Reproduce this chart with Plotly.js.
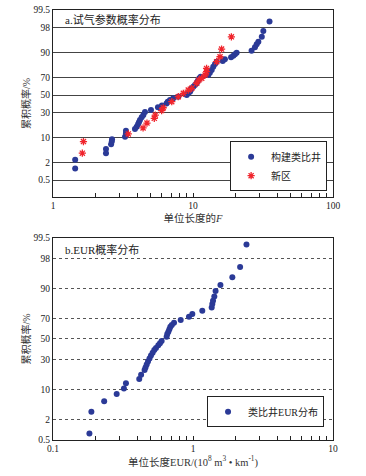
<!DOCTYPE html>
<html>
<head>
<meta charset="utf-8">
<script src="https://cdn.plot.ly/plotly-3.0.1.min.js"></script>
<style>html,body{margin:0;padding:0;background:#fff;}#chart{width:366px;height:476px;}</style>
</head>
<body>
<div id="chart"></div>
<script>
// ---- data ----
const probTicks = [0.5, 2, 10, 30, 50, 70, 90, 98, 99.5];

// a. 构建类比井: unit-length F vs cumulative probability (%)
const analogF = [1.44, 1.44, 2.39, 2.39, 2.60, 2.63, 2.64, 3.27, 3.32, 3.32, 3.85, 3.96, 4.05, 4.11, 4.18, 4.30, 4.42, 4.54, 5.01, 5.62, 6.00, 6.47, 6.60, 6.85, 7.23, 7.85, 9.02, 9.25, 9.52, 9.65, 9.79, 10.05, 10.33, 10.62, 10.75, 10.9, 11.09, 11.35, 12.86, 13.2, 13.6, 13.96, 14.36, 14.76, 16.3, 16.9, 18.7, 19.4, 19.95, 20.5, 26.2, 27.7, 28.5, 29.3, 31.0, 31.8, 35.2];
const analogP = [1.3, 2.5, 3.9, 5.1, 6.8, 7.9, 9.0, 10.3, 12.3, 14.0, 15.1, 16.8, 18.7, 20.4, 22.4, 25.0, 27.2, 30.3, 32.5, 35.5, 37.5, 40.0, 42.0, 44.0, 46.0, 47.9, 50.0, 52.1, 54.0, 56.0, 58.0, 59.9, 61.9, 63.9, 65.7, 67.5, 69.4, 71.0, 72.8, 75.0, 77.6, 80.5, 82.6, 84.4, 84.9, 86.0, 87.3, 88.3, 89.1, 90.0, 91.0, 92.6, 93.8, 94.7, 96.1, 97.4, 98.7];

// a. 新区
const newF = [1.62, 1.65, 3.45, 4.40, 4.69, 5.29, 5.38, 5.97, 6.13, 7.05, 7.85, 8.53, 9.25, 9.79, 10.62, 11.0, 11.54, 12.2, 12.5, 12.5, 14.76, 15.6, 16.0, 18.8];
const newP = [3.9, 7.9, 11.9, 15.9, 19.8, 24.0, 27.2, 31.9, 35.0, 42.0, 48.0, 52.1, 56.0, 58.0, 63.9, 67.5, 69.4, 72.8, 76.0, 79.0, 84.4, 87.7, 91.8, 96.1];

// b. 类比井EUR分布: unit-length EUR vs cumulative probability (%)
const eurV = [0.182, 0.188, 0.232, 0.285, 0.321, 0.332, 0.413, 0.426, 0.451, 0.458, 0.467, 0.477, 0.489, 0.501, 0.515, 0.529, 0.544, 0.565, 0.581, 0.597, 0.648, 0.655, 0.667, 0.678, 0.689, 0.706, 0.732, 0.817, 0.936, 0.989, 1.165, 1.36, 1.374, 1.39, 1.42, 1.45, 1.57, 1.91, 2.17, 2.41];
const eurP = [0.8, 3.2, 5.6, 8.0, 10.3, 12.9, 15.4, 18.1, 21.4, 23.4, 25.8, 28.3, 31.0, 33.7, 36.3, 38.9, 40.9, 43.6, 45.6, 48.0, 52.3, 55.1, 57.4, 59.8, 62.2, 63.9, 66.1, 68.6, 71.5, 73.8, 76.4, 78.9, 81.4, 83.6, 86.1, 89.0, 91.6, 94.2, 96.7, 99.2];

const xTicksTop = [1, 10, 100];
const xTicksBot = [0.1, 1, 10];

// ---- normal probability scale (probit) ----
function probit(p) {
  const a = [-3.969683028665376e+01, 2.209460984245205e+02, -2.759285104469687e+02, 1.383577518672690e+02, -3.066479806614716e+01, 2.506628277459239e+00];
  const b = [-5.447609879822406e+01, 1.615858368580409e+02, -1.556989798598866e+02, 6.680131188771972e+01, -1.328068155288572e+01];
  const c = [-7.784894002430293e-03, -3.223964580411365e-01, -2.400758277161838e+00, -2.549732539343734e+00, 4.374664141464968e+00, 2.938163982698783e+00];
  const d = [7.784695709041462e-03, 3.224671290700398e-01, 2.445134137142996e+00, 3.754408661907416e+00];
  const pl = 0.02425, ph = 1 - pl;
  let q, r;
  if (p < pl) { q = Math.sqrt(-2 * Math.log(p)); return (((((c[0]*q+c[1])*q+c[2])*q+c[3])*q+c[4])*q+c[5]) / ((((d[0]*q+d[1])*q+d[2])*q+d[3])*q+1); }
  if (p <= ph) { q = p - 0.5; r = q*q; return (((((a[0]*r+a[1])*r+a[2])*r+a[3])*r+a[4])*r+a[5])*q / (((((b[0]*r+b[1])*r+b[2])*r+b[3])*r+b[4])*r+1); }
  q = Math.sqrt(-2 * Math.log(1 - p)); return -(((((c[0]*q+c[1])*q+c[2])*q+c[3])*q+c[4])*q+c[5]) / ((((d[0]*q+d[1])*q+d[2])*q+d[3])*q+1);
}
const z = arr => arr.map(v => probit(v / 100));

// minor tick positions (2..9 within each decade)
function minorLog(lo, hi) {
  const vals = [];
  for (let dec = lo; dec < hi; dec *= 10) for (let k = 2; k < 10; k++) vals.push(+(dec * k).toPrecision(3));
  return vals;
}

const serif = "'Liberation Serif', 'Times New Roman', 'Noto Sans CJK SC', serif";
const cjk = "'Liberation Serif', 'Noto Sans CJK SC', serif";
const blue = '#2b3a97';
const red = '#f0242c';

const traces = [
  {x: analogF, y: z(analogP), name: '构建类比井', type: 'scatter', mode: 'markers', xaxis: 'x', yaxis: 'y',
   marker: {color: blue, size: 6, symbol: 'circle'}, legend: 'legend'},
  {x: newF, y: z(newP), name: '新区', type: 'scatter', mode: 'markers', xaxis: 'x', yaxis: 'y',
   marker: {color: red, size: 6, symbol: 'asterisk-open', line: {color: red, width: 1.3}}, legend: 'legend'},
  {x: eurV, y: z(eurP), name: '类比井EUR分布', type: 'scatter', mode: 'markers', xaxis: 'x2', yaxis: 'y2',
   marker: {color: blue, size: 6, symbol: 'circle'}, legend: 'legend2'}
];

const yTickVals = z(probTicks);
const yTickText = probTicks.map(String);

const baseX = {
  type: 'log', showline: true, mirror: true, linecolor: '#222', linewidth: 1,
  ticks: 'inside', ticklen: 4, tickcolor: '#222', tickmode: 'array',
  showgrid: false, zeroline: false, tickfont: {family: serif, size: 9.5, color: '#222'},
  title: {font: {family: cjk, size: 10.5, color: '#333'}, standoff: 4}, automargin: false
};
const baseY = {
  showline: true, mirror: true, linecolor: '#222', linewidth: 1, ticks: '',
  tickmode: 'array', tickvals: yTickVals, ticktext: yTickText, zeroline: false,
  tickfont: {family: serif, size: 9.5, color: '#222'},
  title: {text: '累积概率/%', font: {family: cjk, size: 10, color: '#333'}, standoff: 0}, automargin: false
};

const layout = {
  width: 366, height: 476,
  margin: {l: 53, r: 33, t: 10, b: 36},
  paper_bgcolor: '#fff', plot_bgcolor: '#fff',
  showlegend: true,
  xaxis: Object.assign({}, baseX, {domain: [0, 1], anchor: 'y', range: [0, 2], tickvals: xTicksTop, ticktext: xTicksTop.map(String),
    minor: {tickmode: 'array', tickvals: minorLog(1, 100), ticks: 'inside', ticklen: 4, tickcolor: '#222', showgrid: false},
    title: Object.assign({}, baseX.title, {text: '单位长度的<i>F</i>'})}),
  yaxis: Object.assign({}, baseY, {domain: [0.5651, 1], anchor: 'x', range: [probit(0.001), probit(0.995)],
    showgrid: true, gridcolor: '#444', gridwidth: 1}),
  xaxis2: Object.assign({}, baseX, {domain: [0, 1], anchor: 'y2', range: [-1, 1], tickvals: xTicksBot, ticktext: xTicksBot.map(String),
    minor: {tickmode: 'array', tickvals: minorLog(0.1, 10), ticks: 'inside', ticklen: 4, tickcolor: '#222', showgrid: false},
    title: Object.assign({}, baseX.title, {text: '单位长度EUR/(10<sup>8</sup> m<sup>3</sup> • km<sup>-1</sup>)'})}),
  yaxis2: Object.assign({}, baseY, {domain: [0, 0.4698], anchor: 'x2', range: [probit(0.005), probit(0.995)],
    showgrid: true, gridcolor: '#555', gridwidth: 1, griddash: 'dot'}),
  legend: {x: 0.979, xanchor: 'right', y: 0.695, yanchor: 'top', bgcolor: '#fff', bordercolor: '#222', borderwidth: 1,
    font: {family: cjk, size: 10, color: '#222'}, itemwidth: 30, tracegroupgap: 0},
  legend2: {x: 0.968, xanchor: 'right', y: 0.102, yanchor: 'top', bgcolor: '#fff', bordercolor: '#222', borderwidth: 1,
    font: {family: cjk, size: 10, color: '#222'}, itemwidth: 30},
  annotations: [
    {text: 'a.试气参数概率分布', xref: 'paper', yref: 'paper', x: 0.0357, y: 0.979, xanchor: 'left', yanchor: 'middle',
     showarrow: false, font: {family: cjk, size: 11, color: '#222'}},
    {text: 'b.EUR概率分布', xref: 'paper', yref: 'paper', x: 0.0357, y: 0.444, xanchor: 'left', yanchor: 'middle',
     showarrow: false, font: {family: cjk, size: 11, color: '#222'}}
  ]
};

Plotly.newPlot('chart', traces, layout, {displayModeBar: false, staticPlot: true});
</script>
</body>
</html>
